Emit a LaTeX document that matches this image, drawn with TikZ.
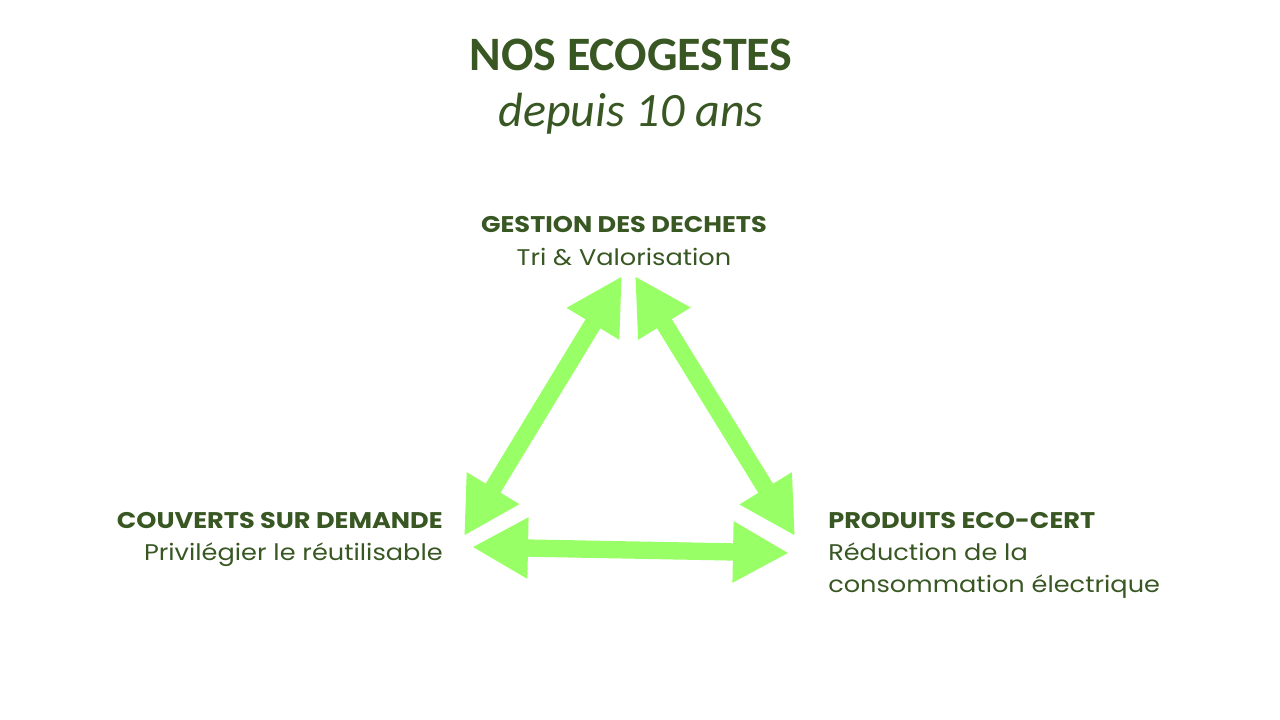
\documentclass[tikz,border=0pt]{standalone}
\usepackage{fontspec}
\setmainfont{Carlito}
\newfontfamily\gothic[FakeStretch=1.13]{Poppins}
\usetikzlibrary{arrows.meta}
\usetikzlibrary{positioning}
\definecolor{ecodark}{RGB}{56,87,35}
\definecolor{ecolight}{RGB}{153,255,102}

\begin{document}
\begin{tikzpicture}
	[x=0.75pt,y=-0.75pt,
	every node/.style={text=ecodark,inner sep=0pt},
	titre/.style={font=\fontsize{36}{42}\selectfont},
	etiq/.style={font=\gothic\fontsize{17}{24}\selectfont},
	fleche/.style={draw=ecolight,line width=13pt,
		{Triangle[length=42pt,width=43pt]}-{Triangle[length=42pt,width=43pt]}}]
	\useasboundingbox (0,0) rectangle (1280,720);
	
	% titre
	\node[titre,anchor=base] (titre) at (631,71) {\bfseries NOS ECOGESTES};
	\node[titre,below=42pt of titre.base,anchor=base] (soustitre) {\itshape depuis 10 ans};
	
	% les trois gestes
	\node[etiq,anchor=base] (dechets) at (624,233) {\bfseries GESTION DES DECHETS};
	\node[etiq,below=24pt of dechets.base,anchor=base] (tri) {Tri \& Valorisation};
	
	\node[etiq,anchor=base east] (couverts) at (443,528) {\bfseries COUVERTS SUR DEMANDE};
	\node[etiq,below=24pt of couverts.base east,anchor=base east] (reutil) {Privilégier le réutilisable};
	
	\node[etiq,anchor=base west] (produits) at (828,528) {\bfseries PRODUITS ECO-CERT};
	\node[etiq,below=24pt of produits.base west,anchor=base west] (reduc) {Réduction de la};
	\node[etiq,below=24pt of reduc.base west,anchor=base west] (conso) {consommation électrique};
	
	% bouts des fleches
	\coordinate (hautG) at (622,276);
	\coordinate (hautD) at (635,276);
	\coordinate (basG) at (464,536);
	\coordinate (basD) at (795,536);
	\coordinate (milG) at (472,547);
	\coordinate (milD) at (789,553);
	
	\foreach \from/\to in {basG/hautG, hautD/basD, milG/milD}
		\draw[fleche] (\from) -- (\to);
\end{tikzpicture}
\end{document}
